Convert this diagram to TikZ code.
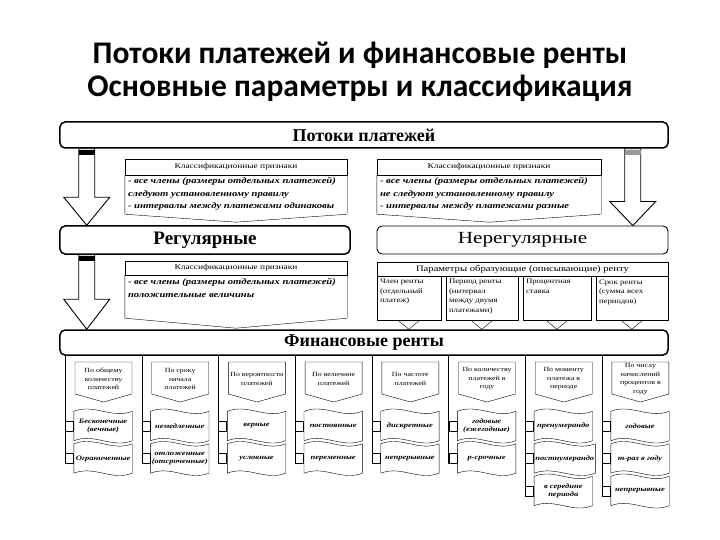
\documentclass[tikz,border=0pt]{standalone}
\usepackage{fontspec}
\setmainfont{Liberation Serif}
\newfontfamily\titlefont{Carlito}
\newfontfamily\wide[FakeStretch=1.25]{Liberation Serif}
\usetikzlibrary{positioning,calc}
\newcommand\blockarrow[4]{%
  \draw[line width=0.9bp,fill=white] ($#1+(-8,0)$) -- ($#2+(-8,-#4)$) -- ($#2+(-23,-#4)$) -- #2 -- ($#2+(23,-#4)$) -- ($#2+(8,-#4)$) -- ($#1+(8,0)$) -- cycle;
  \fill[#3] ($#1+(-8,1.5)$) rectangle ($#1+(8,6)$);}
\newcommand\wavybox[1]{%
  \draw (#1.north west) .. controls ($(#1.north west)!0.35!(#1.north east)+(0,-8)$) and ($(#1.north west)!0.65!(#1.north east)+(0,8)$) .. (#1.north east)
    -- (#1.south east) .. controls ($(#1.south west)!0.65!(#1.south east)+(0,8)$) and ($(#1.south west)!0.35!(#1.south east)+(0,-8)$) .. (#1.south west) -- cycle;}

\begin{document}
\begin{tikzpicture}[x=1bp,y=-1bp,
  bigbox/.style={draw,line width=1.5bp,rounded corners=5bp,inner sep=0pt},
  hdr/.style={draw,inner sep=0pt,font=\wide\fontsize{7.5bp}{9bp}\selectfont},
  body/.style={inner sep=1bp,align=left,font=\wide\bfseries\itshape\fontsize{8.5bp}{12.5bp}\selectfont},
  partxt/.style={anchor=north west,inner sep=3bp,align=left,font=\wide\fontsize{7bp}{9.5bp}\selectfont},
  colhd/.style={align=center,inner sep=0pt,font=\wide\fontsize{6.3bp}{8.5bp}\selectfont},
  tag/.style={minimum width=58bp,minimum height=29bp,inner sep=1bp,align=center,font=\wide\bfseries\itshape\fontsize{6.8bp}{8bp}\selectfont},
  sq/.style={draw,minimum width=8bp,minimum height=10bp,inner sep=0pt}]
\useasboundingbox (0,0) rectangle (720,540);
\node[font=\titlefont\bfseries\fontsize{31.5bp}{34bp}\selectfont] (ttl1) at (360,55) {Потоки платежей и финансовые ренты};
\node[font=\titlefont\bfseries\fontsize{31.5bp}{34bp}\selectfont] (ttl2) at (360,88) {Основные параметры и классификация};

\node[bigbox,minimum width=608bp,minimum height=26bp,font=\bfseries\fontsize{18bp}{20bp}\selectfont] (flows) at (364,135) {Потоки платежей};
\node[bigbox,minimum width=290bp,minimum height=28bp,font=\bfseries\fontsize{19bp}{21bp}\selectfont] (reg) at (205,240) {Регулярные};
\node[bigbox,line width=0.9bp,minimum width=291bp,minimum height=28bp,font=\wide\fontsize{17bp}{19bp}\selectfont] (nreg) at (522.5,240) {Нерегулярные};
\node[bigbox,minimum width=608bp,minimum height=25bp,font=\bfseries\fontsize{18bp}{20bp}\selectfont] (fin) at (364,342.5) {Финансовые ренты};

\coordinate (arA) at ($(flows.south west)+(27.5,0)$);
\coordinate (arB) at ($(flows.south east)+(-36,0)$);
\coordinate (arC) at ($(reg.south west)+(27.5,0)$);
\blockarrow{(arA)}{(arA |- reg.north)}{black}{28}
\blockarrow{(arB)}{(arB |- nreg.north)}{black!40}{24}
\blockarrow{(arC)}{(arC |- fin.north)}{black}{30}

\node[hdr,minimum width=222bp,minimum height=16bp] (clsA) at (236,167) {Классификационные признаки};
\draw (clsA.south west) -- ++(0,39) -- ($(clsA.south)+(0,47)$) -- ($(clsA.south east)+(0,39)$) -- (clsA.south east);
\node[body,anchor=north west] (clsAt) at ($(clsA.south west)+(2,1)$) {- все члены (размеры отдельных платежей)\\следуют установленному правилу\\- интервалы между платежами одинаковы};
\node[hdr,minimum width=224bp,minimum height=16bp] (clsB) at (489,167) {Классификационные признаки};
\draw (clsB.south west) -- ++(0,39) -- ($(clsB.south)+(0,47)$) -- ($(clsB.south east)+(0,39)$) -- (clsB.south east);
\node[body,anchor=north west] (clsBt) at ($(clsB.south west)+(2,1)$) {- все члены (размеры отдельных платежей)\\не следуют установленному правилу\\- интервалы между платежами разные};

\node[hdr,minimum width=222bp,minimum height=14bp] (clsC) at (236,268) {Классификационные признаки};
\draw (clsC.south west) -- ++(0,43) -- ($(clsC.south)+(0,53)$) -- ($(clsC.south east)+(0,43)$) -- (clsC.south east);
\node[body,anchor=north west] (clsCt) at ($(clsC.south west)+(2,2)$) {- все члены (размеры отдельных платежей)\\положительные величины};

\node[hdr,minimum width=291bp,minimum height=14bp,font=\wide\fontsize{8.5bp}{10bp}\selectfont] (pars) at (522.5,269) {Параметры образующие (описывающие) ренту};
\foreach \p/\dx/\w/\txt in {p1/0/64/{Член ренты\\(отдельный\\платеж)},
  p2/69/72/{Период ренты\\(интервал\\между двумя\\платежами)},
  p3/146/68/{Процентная\\ставка},
  p4/219/72/{Срок ренты\\(сумма всех\\периодов)}}{
  \coordinate (\p nw) at ($(pars.south west)+(\dx,0)$);
  \draw (\p nw) rectangle ++(\w,44) coordinate (\p se);
  \node[partxt] (\p) at (\p nw) {\txt};
  \coordinate (\p s) at ($(\p nw)!0.5!(\p se)$);
  \draw ($(\p s |- \p se)+(-11,0)$) -- (\p s |- fin.north) -- ($(\p s |- \p se)+(11,0)$);
}

\foreach \i/\hd/\items in {
  1/{По общему\\количеству\\платежей}/{{Бесконечные\\(вечные)},Ограниченные},
  2/{По сроку\\начала\\платежей}/{немедленные,{отложенные\\(отсроченные)}},
  3/{По вероятности\\платежей}/{верные,условные},
  4/{По величине\\платежей}/{постоянные,переменные},
  5/{По частоте\\платежей}/{дискретные,непрерывные},
  6/{По количеству\\платежей в\\году}/{{годовые\\(ежегодные)},р-срочные},
  7/{По моменту\\платежа в\\периоде}/{пренумерандо,постнумерандо,{в середине\\периода}},
  8/{По числу\\начислений\\процентов в\\году}/{годовые,m-раз в году,непрерывные}}{
  \pgfmathsetmacro\cx{65+76.7*(\i-1)}
  \draw (\cx+10,362) -- (\cx+67,362) -- (\cx+67,394) -- (\cx+38.5,402) -- (\cx+10,394) -- cycle;
  \node[colhd] (hd\i) at (\cx+38.5,379) {\hd};
  \foreach \t [count=\k] in \items {
    \node[sq,anchor=west] (sq\i-\k) at (\cx,426+32.5*\k-32.5) {};
    \node[tag,anchor=west] (it\i-\k) at ($(sq\i-\k.east)+(0.5,0)$) {\t};
    \wavybox{it\i-\k}
    \draw (sq\i-\k.south west) -- (sq\i-\k.south west |- fin.south);
  }
}
\end{tikzpicture}
\end{document}
